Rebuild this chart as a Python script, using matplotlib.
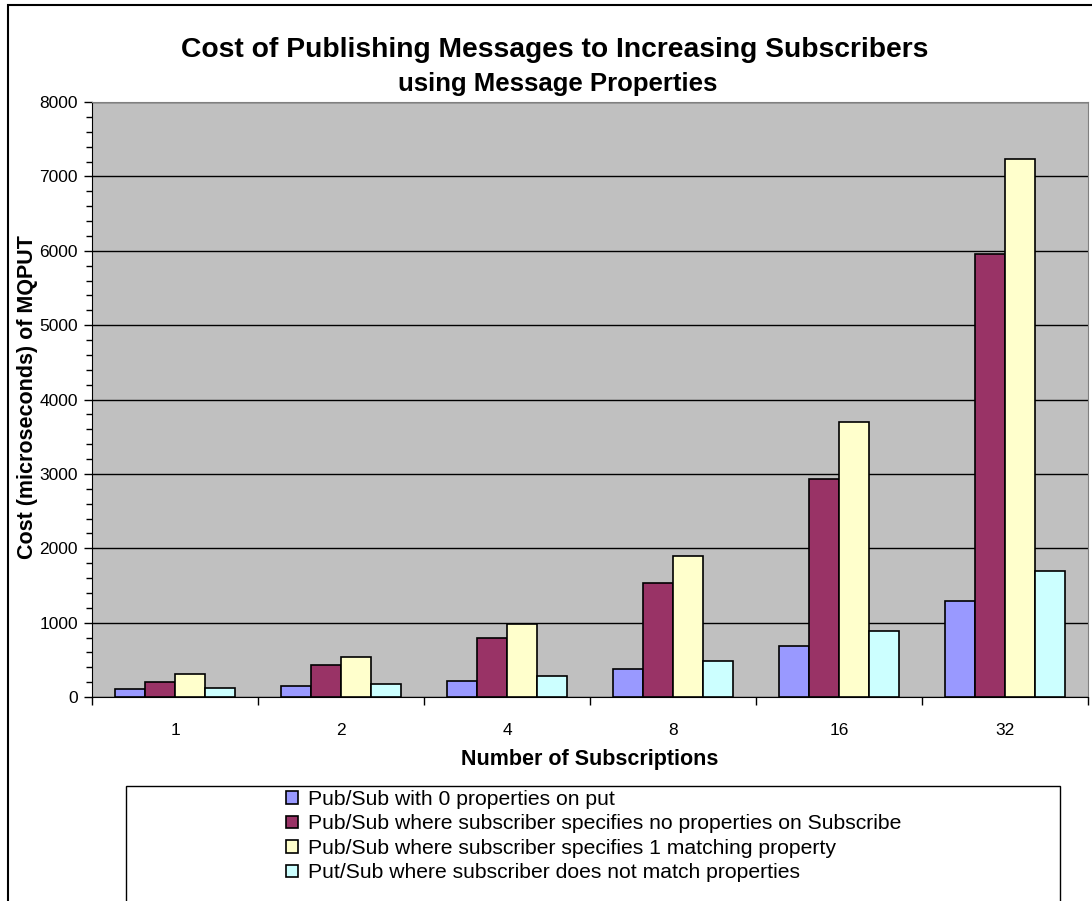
import numpy as np
import matplotlib
matplotlib.use('Agg')
import matplotlib.pyplot as plt
from matplotlib.patches import Rectangle
from matplotlib.ticker import MultipleLocator

plt.rcParams['font.family'] = ['Liberation Sans', 'DejaVu Sans']

subscriptions = ['1', '2', '4', '8', '16', '32']
no_props = [111, 143, 218, 378, 685, 1293]
sub_no_props = [197, 433, 795, 1531, 2928, 5950]
sub_one_match = [304, 540, 978, 1892, 3693, 7240]
sub_no_match = [125, 178, 286, 486, 892, 1689]

series_names = ['Pub/Sub with 0 properties on put',
                'Pub/Sub where subscriber specifies no properties on Subscribe',
                'Pub/Sub where subscriber specifies 1 matching property',
                'Put/Sub where subscriber does not match properties']
series_colors = ['#9999FF', '#993366', '#FFFFCC', '#CCFFFF']

W, H = 1092, 901
fig = plt.figure(figsize=(W / 100, H / 100), dpi=100)
ax = fig.add_axes([92 / W, 1 - 697 / H, 996 / W, 595 / H])
ax.set_facecolor('#C0C0C0')

x = np.arange(len(subscriptions))
bw = 0.18
series = [no_props, sub_no_props, sub_one_match, sub_no_match]
for i, (vals, name, col) in enumerate(zip(series, series_names, series_colors)):
    ax.bar(x + (i - 1.5) * bw, vals, bw, color=col, edgecolor='black',
           linewidth=1.2, label=name, zorder=3)

ax.set_xlim(-0.5, len(subscriptions) - 0.5)
ax.set_ylim(0, 8000)
ax.yaxis.set_major_locator(MultipleLocator(1000))
ax.yaxis.set_minor_locator(MultipleLocator(200))
ax.grid(axis='y', which='major', color='black', linewidth=1, zorder=1)
ax.set_axisbelow(True)

ax.set_xticks(x)
ax.set_xticklabels(subscriptions, fontsize=12.5)
ax.set_xticks(np.arange(-0.5, len(subscriptions)), minor=True)
ax.tick_params(axis='x', which='major', length=0, pad=19)
ax.tick_params(axis='x', which='minor', length=6, width=1, direction='out')
ax.tick_params(axis='y', which='major', length=6, width=1, labelsize=12.5, pad=4)
ax.tick_params(axis='y', which='minor', length=4, width=1)

for s in ['left', 'bottom']:
    ax.spines[s].set_color('black')
for s in ['top', 'right']:
    ax.spines[s].set_color('#808080')

fig.text(590 / W, 1 - 759 / H, 'Number of Subscriptions',
         fontsize=15.5, fontweight='bold', ha='center', va='center')
fig.text(28 / W, 1 - 397 / H, 'Cost (microseconds) of MQPUT', rotation=90,
         fontsize=15.5, fontweight='bold', ha='center', va='center')

fig.text(555 / W, 1 - 50 / H, 'Cost of Publishing Messages to Increasing Subscribers',
         fontsize=20.3, fontweight='bold', ha='center', va='center')
fig.text(558 / W, 1 - 84 / H, 'using Message Properties',
         fontsize=18.5, fontweight='bold', ha='center', va='center')

# outer chart border and legend box
fig.patches.append(Rectangle((8 / W, -0.1), 1.2, 1 - 5 / H + 0.1,
                             transform=fig.transFigure, fill=False,
                             edgecolor='black', linewidth=1.5))
fig.patches.append(Rectangle((126 / W, -0.1), (1060 - 126) / W, 1 - 786 / H + 0.1,
                             transform=fig.transFigure, fill=False,
                             edgecolor='black', linewidth=1))

fig.legend(loc='upper left', bbox_to_anchor=(286 / W, 1 - 790 / H),
           frameon=False, fontsize=15.2, handlelength=0.55, handleheight=0.55,
           handletextpad=0.48, labelspacing=0.26, borderaxespad=0,
           borderpad=0)

fig.savefig('out.png', dpi=100)
